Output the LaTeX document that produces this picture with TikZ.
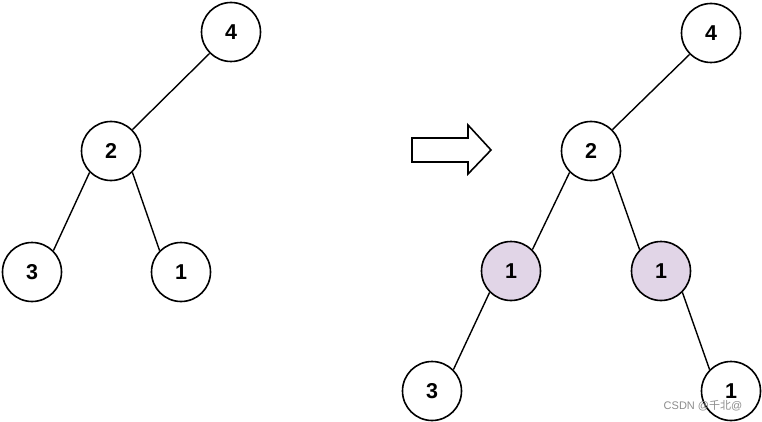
\documentclass[tikz,border=0pt]{standalone}
\usepackage{fontspec}
\setmainfont{Liberation Sans}
\newfontfamily\cjk{Noto Sans CJK SC}
\definecolor{lilac}{HTML}{E1D5E7}
\tikzset{
  tn/.style={circle, draw=black, line width=1.6pt, fill=white, minimum size=59pt, inner sep=0pt, font=\fontsize{21.5}{24}\selectfont\bfseries},
  hl/.style={tn, fill=lilac},
  edge/.style={line width=1.4pt},
}
\begin{document}
\begin{tikzpicture}[x=1pt,y=-1pt]
\useasboundingbox (0,0) rectangle (762,422);
% left tree
\node[tn] (L4) at (231,32) {4};
\node[tn] (L2) at (111,151) {2};
\node[tn] (L3) at (32,272) {3};
\node[tn] (L1) at (181,272) {1};
\draw[edge] (L4.south west) -- (L2.north east);
\draw[edge] (L2.south west) -- (L3.north east);
\draw[edge] (L2.south east) -- (L1.north west);
% arrow
\draw[line width=1.6pt, fill=white] (412,138) -- (468,138) -- (468,125) -- (491,150) -- (468,174) -- (468,162) -- (412,162) -- cycle;
% right tree
\node[tn] (R4) at (711,33) {4};
\node[tn] (R2) at (591,151) {2};
\node[hl] (Ra) at (511,271) {1};
\node[hl] (Rb) at (661,271) {1};
\node[tn] (R3) at (432,391) {3};
\node[tn] (R1) at (731,391) {1};
\draw[edge] (R4.south west) -- (R2.north east);
\draw[edge] (R2.south west) -- (Ra.north east);
\draw[edge] (R2.south east) -- (Rb.north west);
\draw[edge] (Ra.south west) -- (R3.north east);
\draw[edge] (Rb.south east) -- (R1.north west);
\node[text=gray!90, font=\fontsize{11}{12}\selectfont, inner sep=0pt] (wm) at (703,406) {CSDN @{\cjk 千北}@};
\end{tikzpicture}
\end{document}
